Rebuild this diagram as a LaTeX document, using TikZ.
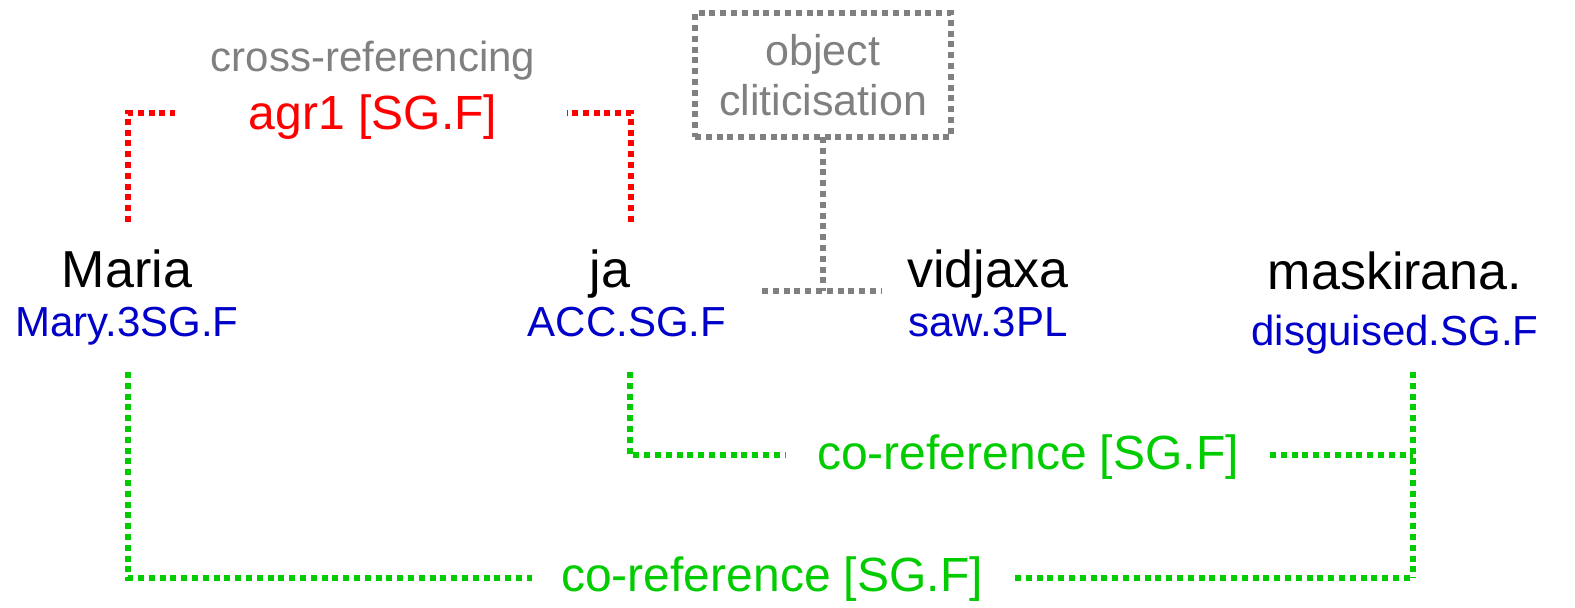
\documentclass[tikz,border=0pt]{standalone}
\usepackage{fontspec}
\setmainfont{Liberation Sans}
\definecolor{glossblue}{RGB}{0,0,200}
\definecolor{refgreen}{RGB}{0,204,0}
\definecolor{notegray}{RGB}{128,128,128}

\begin{document}
\begin{tikzpicture}[
    x=0.5pt, y=-0.5pt,
    every node/.style={inner sep=0pt, outer sep=0pt, anchor=base},
    word/.style={font=\fontsize{26}{30}\selectfont, text=black},
    gloss/.style={font=\fontsize{21}{25}\selectfont, text=glossblue},
    note/.style={font=\fontsize{21}{25}\selectfont, text=notegray},
    feat/.style={font=\fontsize{24}{28}\selectfont},
    link/.style={line width=2.8pt, dash pattern=on 3pt off 2.4pt},
    redlink/.style={link, draw=red},
    greenlink/.style={link, draw=refgreen},
    graylink/.style={link, draw=notegray}
  ]
    \useasboundingbox (0,0) rectangle (1575,608);

    \node[word] (maria) at (127,288) {Maria};
    \node[word] (ja) at (610,288) {ja};
    \node[word] (vidjaxa) at (988,288) {vidjaxa};
    \node[word] (maskirana) at (1395,290) {maskirana.};

    \node[gloss] (maria-gl) at (127,337) {Mary.3SG.F};
    \node[gloss] (ja-gl) at (627,337) {ACC.SG.F};
    \node[gloss] (vidjaxa-gl) at (988,337) {saw.3PL};
    \node[gloss] (maskirana-gl) at (1395,346) {disguised.SG.F};

    \node[note] (xref) at (373,72) {cross-referencing};
    \node[feat, text=red] (agr) at (373,130) {agr1 [SG.F]};
    \node[note, anchor=center, align=center, draw=notegray, link,
      minimum width=128pt, minimum height=62pt,
      font=\fontsize{21.5}{25}\selectfont] (clitic) at (823,75) {object\\cliticisation};

    \node[feat, text=refgreen] (coref1) at (1028,470) {co-reference [SG.F]};
    \node[feat, text=refgreen] (coref2) at (772,592) {co-reference [SG.F]};

    \coordinate (maria-top) at (128,222);
    \coordinate (ja-top) at (631,222);
    \coordinate (agr-l) at (175,113);
    \coordinate (agr-r) at (567,113);
    \draw[redlink] (maria-top) |- (agr-l);
    \draw[redlink] (ja-top) |- (agr-r);

    \coordinate (clitic-l) at (762,291);
    \coordinate (clitic-r) at (882,291);
    \draw[graylink] (clitic.south) -- (clitic.south |- clitic-l);
    \draw[graylink] (clitic-l) -- (clitic-r);

    \coordinate (ja-bot) at (630,372);
    \coordinate (maria-bot) at (128,372);
    \coordinate (mask-bot) at (1413,372);
    \coordinate (mask-end) at (1413,578);
    \coordinate (coref1-l) at (785,455);
    \coordinate (coref1-r) at (1270,455);
    \coordinate (coref2-l) at (532,578);
    \coordinate (coref2-r) at (1015,578);
    \draw[greenlink] (ja-bot) |- (coref1-l);
    \draw[greenlink] (coref1-r) -- (coref1-r -| mask-bot);
    \draw[greenlink] (mask-bot) -- (mask-end);
    \draw[greenlink] (maria-bot) |- (coref2-l);
    \draw[greenlink] (coref2-r) -- (mask-end);
  \end{tikzpicture}
\end{document}
